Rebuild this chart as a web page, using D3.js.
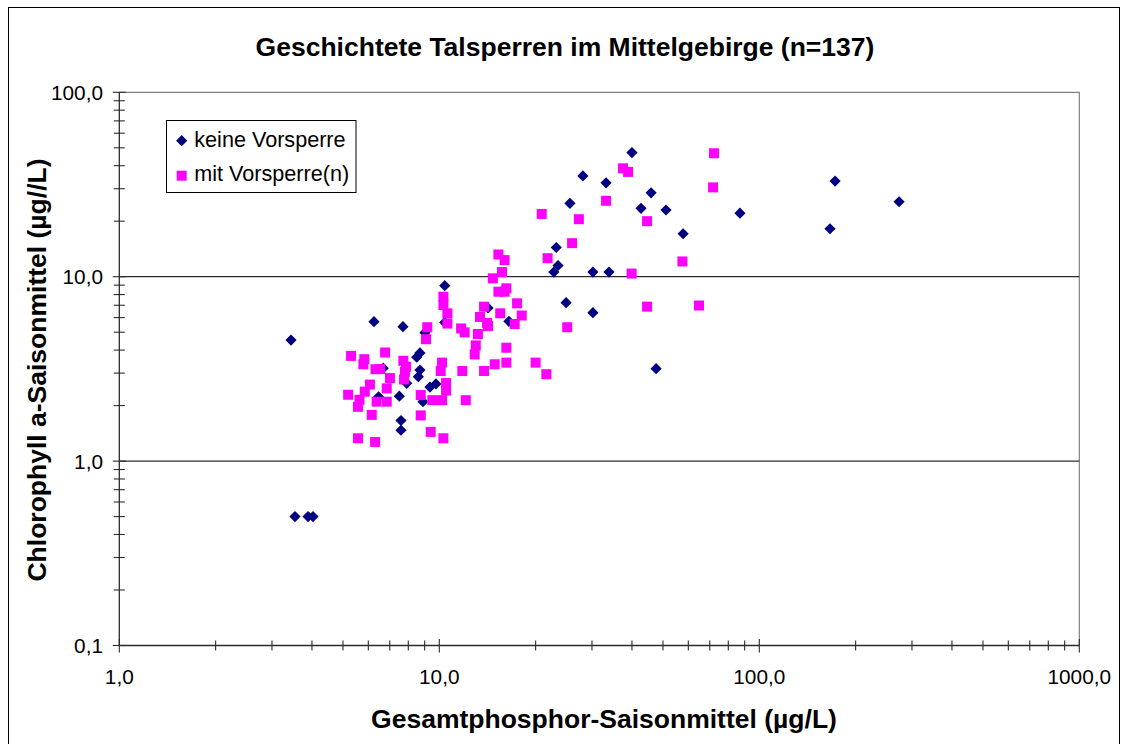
<!DOCTYPE html>
<html><head><meta charset="utf-8">
<script src="https://cdn.jsdelivr.net/npm/d3@7"></script>
<style>html,body{margin:0;padding:0;background:#fff;} svg{display:block;}</style>
</head><body>
<script>
const chartTitle = "Geschichtete Talsperren im Mittelgebirge (n=137)";
const xTitle = "Gesamtphosphor-Saisonmittel (µg/L)";
const yTitle = "Chlorophyll a-Saisonmittel (µg//L)";
const seriesNames = ["keine Vorsperre", "mit Vorsperre(n)"];
const xTickValues = [1, 10, 100, 1000];
const xTickLabels = ["1,0", "10,0", "100,0", "1000,0"];
const yTickValues = [0.1, 1, 10, 100];
const yTickLabels = ["0,1", "1,0", "10,0", "100,0"];

const keineX = [3.44,3.54,3.89,4.03,6.25,7.70,9.02,8.70,8.50,6.68,8.70,8.60,7.91,9.35,9.76,6.46,7.50,8.89,7.59,7.59,10.4,10.4,14.2,16.5,40.0,28.1,33.2,45.9,25.6,42.7,51.1,87.0,57.8,23.2,23.5,22.8,30.2,33.9,24.9,30.2,47.6,172.5,166.3,273.4];
const keineY = [4.53,0.50,0.50,0.50,5.70,5.36,4.97,3.86,3.66,3.19,3.12,2.87,2.64,2.52,2.62,2.23,2.25,2.10,1.66,1.47,8.94,5.65,6.77,5.73,47.1,35.2,32.3,28.5,25.0,23.5,23.0,22.1,17.1,14.4,11.5,10.6,10.6,10.6,7.23,6.38,3.17,33.0,18.2,25.5];

const mitX = [72.2,71.7,37.5,38.9,33.2,20.9,27.3,44.6,26.0,21.8,57.5,39.9,44.6,64.8,25.1,20.0,21.6,
15.3,16.0,15.7,14.7,16.2,15.3,16.0,17.5,18.1,15.5,17.2,13.8,13.4,14.1,14.2,11.7,12.0,13.2,13.0,12.9,16.2,16.2,14.9,13.8,11.8,12.1,
10.3,10.3,10.6,10.6,9.17,9.09,10.2,10.1,10.5,10.5,10.2,9.51,8.75,8.75,9.40,10.3,
6.77,5.30,5.83,5.79,7.72,7.87,6.32,6.53,7.81,7.01,7.76,6.07,6.85,5.85,5.19,5.63,6.37,6.85,5.57,6.15,5.57,6.30];
const mitY = [46.7,30.5,38.7,37.0,25.8,21.9,20.5,20.0,15.2,12.6,12.1,10.4,6.88,6.98,5.32,3.42,2.96,
13.2,12.3,10.6,9.80,8.65,8.29,8.29,7.17,6.16,6.33,5.54,6.88,6.05,5.61,5.40,5.24,4.99,4.89,4.24,3.79,4.12,3.42,3.35,3.08,3.08,2.14,
7.79,7.02,6.33,5.57,5.32,4.58,3.42,3.08,2.65,2.41,2.14,2.14,2.28,1.77,1.44,1.33,
3.88,3.72,3.57,3.35,3.50,3.25,3.15,3.16,3.05,2.82,2.77,2.60,2.48,2.38,2.29,2.15,2.10,2.10,1.97,1.78,1.33,1.27];

const W = 1125, H = 744;
const FONT = "'Liberation Sans', Arial, Helvetica, sans-serif";
const L = 119.3, R = 1079.3, T = 92.3, B = 645.5;
const navy = "#000080", magenta = "#FF00FF", axisCol = "#2b2b2b";

const svg = d3.select("body").append("svg").attr("width", W).attr("height", H)
  .style("font-family", FONT);
svg.append("rect").attr("width", W).attr("height", H).attr("fill", "#fff");
svg.append("rect").attr("x", 8.5).attr("y", 7.5).attr("width", 1111).attr("height", 760)
  .attr("fill", "none").attr("stroke", "#000").attr("stroke-width", 1);

const x = d3.scaleLog().domain([1, 1000]).range([L, R]);
const y = d3.scaleLog().domain([0.1, 100]).range([B, T]);

// plot border (top/right)
svg.append("path").attr("d", `M${L},${T}H${R}V${B}`).attr("fill", "none")
  .attr("stroke", "#808080").attr("stroke-width", 1.2);

// horizontal gridlines at major y ticks (excluding ends)
svg.append("g").selectAll("line").data(yTickValues.filter(v => v > 0.1 && v < 100)).join("line")
  .attr("x1", L).attr("x2", R).attr("y1", d => y(d)).attr("y2", d => y(d))
  .attr("stroke", axisCol).attr("stroke-width", 1.2);

// minor/major ticks
function decadeTicks(lo, hi) {
  const out = [];
  for (let e = Math.log10(lo); e < Math.log10(hi); e++) {
    for (let m = 1; m <= 9; m++) out.push({v: m * Math.pow(10, e), major: m === 1});
  }
  out.push({v: hi, major: true});
  return out;
}
const xt = decadeTicks(1, 1000), yt = decadeTicks(0.1, 100);

svg.append("g").selectAll("line").data(xt).join("line")
  .attr("x1", d => x(d.v)).attr("x2", d => x(d.v))
  .attr("y1", d => B - (d.major ? 6.5 : 5)).attr("y2", d => B + (d.major ? 7 : 5))
  .attr("stroke", axisCol).attr("stroke-width", 1.1);
svg.append("g").selectAll("line").data(yt).join("line")
  .attr("y1", d => y(d.v)).attr("y2", d => y(d.v))
  .attr("x1", d => L - (d.major ? 6.5 : 5.5)).attr("x2", d => L + (d.major ? 6.5 : 5.5))
  .attr("stroke", axisCol).attr("stroke-width", 1.1);

// axis lines
svg.append("line").attr("x1", L).attr("x2", R).attr("y1", B).attr("y2", B)
  .attr("stroke", axisCol).attr("stroke-width", 1.3);
svg.append("line").attr("x1", L).attr("x2", L).attr("y1", T).attr("y2", B)
  .attr("stroke", axisCol).attr("stroke-width", 1.3);

// tick labels
svg.append("g").selectAll("text").data(xTickValues).join("text")
  .attr("x", d => x(d)).attr("y", 684).attr("text-anchor", "middle")
  .attr("font-size", "20.8px").attr("fill", "#000")
  .text((d, i) => xTickLabels[i]);
svg.append("g").selectAll("text").data(yTickValues).join("text")
  .attr("x", 103).attr("y", d => y(d) + 7.5).attr("text-anchor", "end")
  .attr("font-size", "20.8px").attr("fill", "#000")
  .text((d, i) => yTickLabels[i]);

// points
const diamond = "M0,-5.6L5.6,0L0,5.6L-5.6,0Z";
const keine = keineX.map((v, i) => ({x: v, y: keineY[i]}));
const mit = mitX.map((v, i) => ({x: v, y: mitY[i]}));
svg.append("g").selectAll("path").data(keine).join("path")
  .attr("d", diamond).attr("transform", d => `translate(${x(d.x)},${y(d.y)})`)
  .attr("fill", navy);
svg.append("g").selectAll("rect").data(mit).join("rect")
  .attr("x", d => x(d.x) - 5).attr("y", d => y(d.y) - 5)
  .attr("width", 10).attr("height", 10).attr("fill", magenta);

// legend
const lg = svg.append("g");
lg.append("rect").attr("x", 166.5).attr("y", 120.5).attr("width", 189.5).attr("height", 72)
  .attr("fill", "#fff").attr("stroke", "#000").attr("stroke-width", 1);
lg.append("path").attr("d", diamond).attr("transform", "translate(181.7,140.7)").attr("fill", navy);
lg.append("rect").attr("x", 176.7).attr("y", 170.7).attr("width", 10).attr("height", 10).attr("fill", magenta);
lg.append("text").attr("x", 194.3).attr("y", 146.5).attr("font-size", "21.6px").text(seriesNames[0]);
lg.append("text").attr("x", 194.3).attr("y", 181).attr("font-size", "21.6px").text(seriesNames[1]);

// titles
svg.append("text").attr("x", 565).attr("y", 56).attr("text-anchor", "middle")
  .attr("font-size", "26.5px").attr("font-weight", "bold").text(chartTitle);
svg.append("text").attr("x", 604).attr("y", 728).attr("text-anchor", "middle")
  .attr("font-size", "26.5px").attr("font-weight", "bold").text(xTitle);
svg.append("text").attr("transform", "translate(46,370) rotate(-90)").attr("text-anchor", "middle")
  .attr("font-size", "26.5px").attr("font-weight", "bold").text(yTitle);
</script>
</body></html>
